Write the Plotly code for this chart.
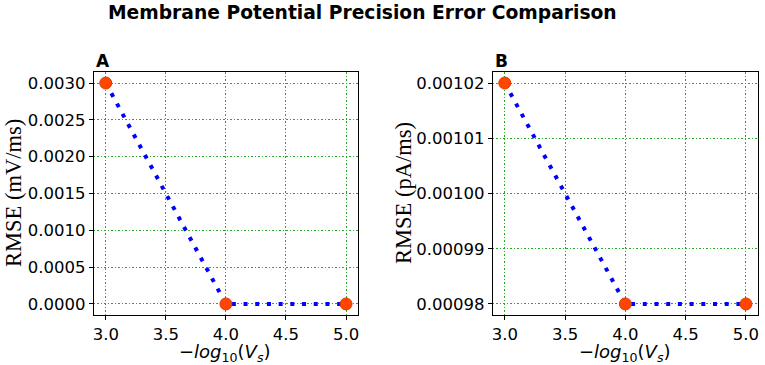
import plotly.graph_objects as go

# Data
vs_exp = [3.0, 4.0, 5.0]
rmse_a = [0.0030, 0.0, 0.0]
rmse_b = [0.00102, 0.00098, 0.00098]
yticks_a = [0.0, 0.0005, 0.0010, 0.0015, 0.0020, 0.0025, 0.0030]
yticks_b = [0.00098, 0.00099, 0.00100, 0.00101, 0.00102]
xticks = [3.0, 3.5, 4.0, 4.5, 5.0]

W, H = 765, 365
fig = go.Figure()

for i, ys in enumerate([rmse_a, rmse_b]):
    ax = "" if i == 0 else "2"
    fig.add_trace(go.Scatter(x=vs_exp, y=ys, mode="lines", xaxis="x" + ax, yaxis="y" + ax,
                             line=dict(color="#0000FF", width=4, dash="4px,7.7px"), showlegend=False))
    fig.add_trace(go.Scatter(x=vs_exp, y=ys, mode="markers", xaxis="x" + ax, yaxis="y" + ax,
                             marker=dict(color="#FF4500", size=12, line=dict(color="#E03A00", width=1)),
                             showlegend=False))

ydom = [(H - 315) / H, (H - 72) / H]
grid = dict(showgrid=True, gridcolor="#2aa62a", gridwidth=1, griddash="1.5px,2px")
common_x = dict(range=[2.9, 5.1], tickvals=xticks, ticktext=[f"{v:.1f}" for v in xticks],
                showline=True, linecolor="black", linewidth=1, mirror=True,
                ticks="outside", ticklen=4, tickcolor="black", tickwidth=1,
                zeroline=False, tickfont=dict(family="DejaVu Sans", size=16.5, color="black"), **grid)
common_y = dict(showline=True, linecolor="black", linewidth=1, mirror=True,
                ticks="outside", ticklen=4, tickcolor="black", tickwidth=1,
                zeroline=False, tickfont=dict(family="DejaVu Sans", size=16.5, color="black"),
                domain=ydom, **grid)

fig.update_layout(
    width=W, height=H, margin=dict(l=0, r=0, t=0, b=0),
    paper_bgcolor="white", plot_bgcolor="white",
    xaxis=dict(common_x, domain=[93 / W, 358 / W], anchor="y"),
    yaxis=dict(common_y, anchor="x", range=[-0.00015, 0.00315], tickvals=yticks_a,
               ticktext=[f"{v:.4f}" for v in yticks_a]),
    xaxis2=dict(common_x, domain=[493 / W, 759 / W], anchor="y2"),
    yaxis2=dict(common_y, anchor="x2", range=[0.000978, 0.001022], tickvals=yticks_b,
                ticktext=[f"{v:.5f}" for v in yticks_b]),
)

xt = "\u2212<i>log</i><sub>10</sub>(<i>V</i><sub><i>s</i></sub>)"
ann = [
    dict(text="<b>Membrane Potential Precision Error Comparison</b>", x=362 / W, y=1 - 13 / H,
         font=dict(family="DejaVu Sans", size=18.7, color="black")),
    dict(text="<b>A</b>", x=93 / W, y=1 - 61 / H, xanchor="left",
         font=dict(family="DejaVu Sans", size=17, color="black")),
    dict(text="<b>B</b>", x=493 / W, y=1 - 61 / H, xanchor="left",
         font=dict(family="DejaVu Sans", size=17, color="black")),
    dict(text="RMSE (mV/ms)", x=12 / W, y=1 - 193 / H, textangle=-90,
         font=dict(family="Liberation Serif", size=22.5, color="black")),
    dict(text="RMSE (pA/ms)", x=403 / W, y=1 - 193 / H, textangle=-90,
         font=dict(family="Liberation Serif", size=22.5, color="black")),
    dict(text=xt, x=225 / W, y=1 - 353 / H, font=dict(family="DejaVu Sans", size=18, color="black")),
    dict(text=xt, x=626 / W, y=1 - 353 / H, font=dict(family="DejaVu Sans", size=18, color="black")),
]
for a in ann:
    a.update(xref="paper", yref="paper", showarrow=False)
    a.setdefault("xanchor", "center")
    a.setdefault("yanchor", "middle")
fig.update_layout(annotations=ann)

fig.write_html("out.html", config={"displayModeBar": False},
               post_script="document.body.style.margin='0px';document.body.style.overflow='hidden';")
